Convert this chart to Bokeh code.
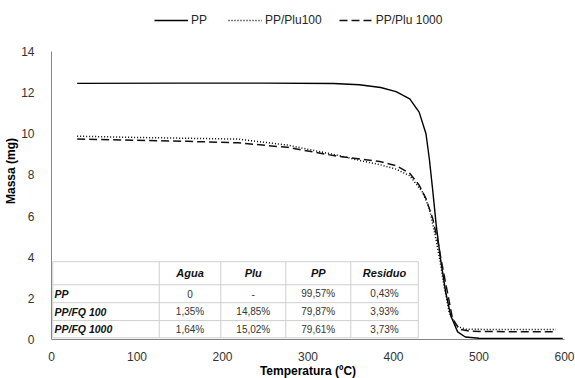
from bokeh.plotting import figure
from bokeh.models import Range1d, FixedTicker, Legend, LegendItem
from bokeh.core.properties import value
from bokeh.embed import file_html
from bokeh.resources import INLINE

# ---- data ----
temp_pp = [30, 150, 250, 330, 360, 385, 403, 419, 430, 438, 442, 446, 450, 455, 461, 467, 475, 484, 500, 550, 598]
mass_pp = [12.45, 12.46, 12.46, 12.44, 12.38, 12.25, 12.05, 11.7, 11.05, 10.0, 8.75, 7.2, 5.55, 3.92, 2.31, 1.15, 0.37, 0.12, 0.06, 0.05, 0.05]

temp_plu100 = [30, 100, 160, 218, 276, 334, 365, 384, 403, 419, 434, 442, 448, 454, 459, 465, 473, 485, 530, 590]
mass_plu100 = [9.88, 9.82, 9.78, 9.74, 9.45, 8.96, 8.66, 8.5, 8.28, 7.96, 7.16, 6.35, 5.22, 3.92, 2.63, 1.34, 0.65, 0.5, 0.48, 0.48]

temp_plu1000 = [30, 100, 160, 218, 276, 334, 365, 384, 403, 419, 430, 438, 446, 452, 457, 463, 469, 477, 490, 530, 590]
mass_plu1000 = [9.74, 9.68, 9.63, 9.56, 9.34, 8.91, 8.75, 8.65, 8.45, 8.08, 7.5, 6.85, 5.86, 4.73, 3.6, 2.31, 1.02, 0.5, 0.4, 0.38, 0.38]

series_names = ["PP", "PP/Plu100", "PP/Plu 1000"]

x_ticks = [0, 100, 200, 300, 400, 500, 600]
y_ticks = [0, 2, 4, 6, 8, 10, 12, 14]
x_title = "Temperatura (ºC)"
y_title = "Massa (mg)"

table_cols = ["Agua", "Plu", "PP", "Residuo"]
table_rows = ["PP", "PP/FQ 100", "PP/FQ 1000"]
col_agua = ["0", "1,35%", "1,64%"]
col_plu = ["-", "14,85%", "15,02%"]
col_pp = ["99,57%", "79,87%", "79,61%"]
col_residuo = ["0,43%", "3,93%", "3,73%"]

# ---- layout constants ----
tbl_x_edges = [1.5, 126, 198, 274, 350, 429]
tbl_y_edges = [3.78, 2.66, 1.79, 0.92, 0.08]

FONT = "Liberation Sans"
FW, FH = 513, 337          # frame size in px
Y_TOP = 16.38              # extra headroom above 14 holds the legend

p = figure(frame_width=FW, frame_height=FH, output_backend="svg", toolbar_location=None,
           x_range=Range1d(0, 600), y_range=Range1d(0, Y_TOP),
           min_border_left=51, min_border_right=11, min_border_top=2, min_border_bottom=37)
p.outline_line_color = None
p.xgrid.visible = False
p.ygrid.visible = False
p.background_fill_color = "white"
p.border_fill_color = "white"

for ax in (p.xaxis[0], p.yaxis[0]):
    ax.axis_line_color = "#868686"
    ax.axis_line_width = 1
    ax.major_tick_line_color = None
    ax.minor_tick_line_color = None
    ax.major_label_text_font = FONT
    ax.major_label_text_font_size = "12px"
    ax.major_label_text_color = "#333333"
    ax.axis_label_text_font = FONT
    ax.axis_label_text_font_size = "12px"
    ax.axis_label_text_font_style = "bold"
    ax.axis_label_text_color = "#000000"

p.xaxis.ticker = FixedTicker(ticks=x_ticks)
p.yaxis.ticker = FixedTicker(ticks=y_ticks)
p.yaxis.bounds = (0, 14)
p.xaxis.axis_label = x_title
p.yaxis.axis_label = y_title
p.xaxis.major_label_standoff = 6
p.xaxis.axis_label_standoff = 0
p.yaxis.major_label_standoff = 11
p.yaxis.axis_label_standoff = 0

# ---- inset table ----
x0, x5 = tbl_x_edges[0], tbl_x_edges[-1]
y0, y4 = tbl_y_edges[0], tbl_y_edges[-1]
p.quad(left=[x0], right=[x5], bottom=[y4], top=[y0], fill_color="white", line_color=None)
p.segment(x0=[x0] * len(tbl_y_edges), x1=[x5] * len(tbl_y_edges), y0=tbl_y_edges, y1=tbl_y_edges,
          line_color="#cfcfcf", line_width=1)
p.segment(x0=tbl_x_edges, x1=tbl_x_edges, y0=[y4] * len(tbl_x_edges), y1=[y0] * len(tbl_x_edges),
          line_color="#cfcfcf", line_width=1)

col_centers = [(tbl_x_edges[i] + tbl_x_edges[i + 1]) / 2 for i in range(1, 5)]
row_centers = [(tbl_y_edges[i] + tbl_y_edges[i + 1]) / 2 for i in range(4)]

p.text(x=col_centers, y=[row_centers[0]] * 4, text=table_cols,
       text_font=value(FONT), text_font_size="11px", text_font_style="bold italic",
       text_align="center", text_baseline="middle", text_color="#111111")
p.text(x=[x0 + 2] * 3, y=row_centers[1:], text=table_rows,
       text_font=value(FONT), text_font_size="10.5px", text_font_style="bold italic",
       text_align="left", text_baseline="middle", text_color="#111111")
for ci, col in enumerate([col_agua, col_plu, col_pp, col_residuo]):
    p.text(x=[col_centers[ci]] * 3, y=row_centers[1:], text=col,
           text_font=value(FONT), text_font_size="10px",
           text_align="center", text_baseline="middle", text_color="#333333")

# ---- curves ----
r_pp = p.line(temp_pp, mass_pp, line_color="#000000", line_width=1.4)
r_100 = p.line(temp_plu100, mass_plu100, line_color="#000000", line_width=1.5, line_dash="1 2")
r_1000 = p.line(temp_plu1000, mass_plu1000, line_color="#111111", line_width=1.5, line_dash="8 4")

legend = Legend(items=[LegendItem(label=series_names[0], renderers=[r_pp]),
                       LegendItem(label=series_names[1], renderers=[r_100]),
                       LegendItem(label=series_names[2], renderers=[r_1000])],
                orientation="horizontal", location=(103, FH - 25),
                padding=0, margin=0, spacing=17, glyph_width=34, glyph_height=14,
                label_standoff=3, label_text_font=FONT, label_text_font_size="12px",
                label_text_color="#262626", border_line_alpha=0, background_fill_alpha=0,
                label_height=14)
p.add_layout(legend, "center")

open("out.html", "w").write(file_html(p, INLINE))
